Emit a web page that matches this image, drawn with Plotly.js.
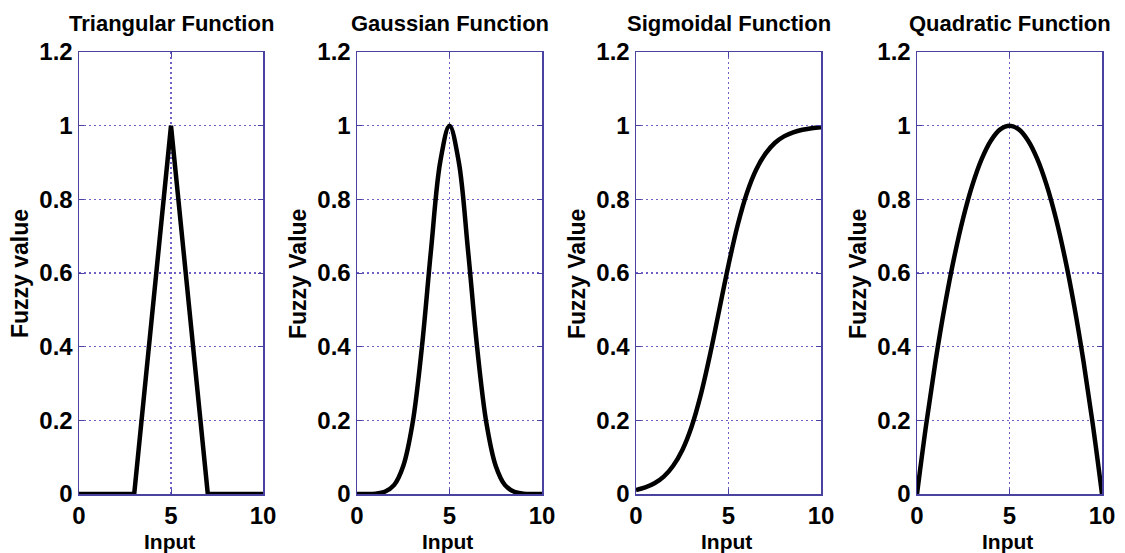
<!DOCTYPE html>
<html>
<head>
<meta charset="utf-8">
<script src="https://cdn.plot.ly/plotly-3.0.1.min.js"></script>
<style>html,body{margin:0;padding:0;background:#fff;}#chart{width:1125px;height:553px;}</style>
</head>
<body>
<div id="chart"></div>
<script>
// ---- data ----
const titles = ["Triangular Function", "Gaussian Function", "Sigmoidal Function", "Quadratic Function"];
const yLabels = ["Fuzzy value", "Fuzzy Value", "Fuzzy Value", "Fuzzy Value"];
const xLabel = "Input";
const xTicks = [0, 5, 10];
const yTicks = [0, 0.2, 0.4, 0.6, 0.8, 1, 1.2];
const yTickText = ["0", "0.2", "0.4", "0.6", "0.8", "1", "1.2"];

const triX = [0, 3, 5, 7, 10];
const triY = [0, 0, 1, 0, 0];

const curveX = [0,0.5,1,1.5,2,2.5,3,3.5,4,4.5,5,5.5,6,6.5,7,7.5,8,8.5,9,9.5,10];
const gaussY = [0,0,0.001,0.006,0.024,0.076,0.191,0.395,0.662,0.902,1,0.902,0.662,0.395,0.191,0.076,0.024,0.006,0.001,0,0];
const sigY   = [0.011,0.018,0.029,0.047,0.076,0.119,0.182,0.269,0.378,0.5,0.622,0.731,0.818,0.881,0.924,0.953,0.971,0.982,0.989,0.993,0.996];
const quadY  = [0,0.19,0.36,0.51,0.64,0.75,0.84,0.91,0.96,0.99,1,0.99,0.96,0.91,0.84,0.75,0.64,0.51,0.36,0.19,0];

// ---- layout geometry ----
const W = 1125, H = 553;
const panels = [[79, 263], [357, 542], [636, 821], [917, 1102]];
const plotTop = 52, plotBottom = 494;
const px = v => v / W;
const py = v => 1 - v / H;

const font = "Liberation Sans, Arial, sans-serif";
const gridColor = "#6e60c4";
const frameColor = "#4a42a0";

const series = [[triX, triY, "linear"], [curveX, gaussY, "spline"], [curveX, sigY, "spline"], [curveX, quadY, "spline"]];

const traces = series.map((s, i) => ({
  x: s[0], y: s[1], type: "scatter", mode: "lines",
  line: {color: "#000", width: 4.5, shape: s[2]},
  xaxis: i === 0 ? "x" : "x" + (i + 1),
  yaxis: i === 0 ? "y" : "y" + (i + 1),
  hoverinfo: "skip", cliponaxis: true
}));

const layout = {
  width: W, height: H,
  margin: {l: 0, r: 0, t: 0, b: 0},
  paper_bgcolor: "#fff", plot_bgcolor: "#fff",
  showlegend: false,
  font: {family: font, color: "#000"},
  annotations: []
};

panels.forEach((p, i) => {
  const xa = i === 0 ? "xaxis" : "xaxis" + (i + 1);
  const ya = i === 0 ? "yaxis" : "yaxis" + (i + 1);
  const yid = i === 0 ? "y" : "y" + (i + 1);
  const xid = i === 0 ? "x" : "x" + (i + 1);
  layout[xa] = {
    domain: [px(p[0]), px(p[1])], anchor: yid, range: [0, 10],
    tickvals: xTicks, ticktext: xTicks.map(String),
    showgrid: true, gridcolor: gridColor, griddash: "2px,3px", gridwidth: 1.5,
    zeroline: false, showline: true, linecolor: frameColor, linewidth: 1.5, mirror: "ticks",
    ticks: "inside", ticklen: 5, tickcolor: frameColor,
    tickfont: {family: font, size: 24, color: "#000", weight: "bold"},
    ticklabelstandoff: 0
  };
  layout[ya] = {
    domain: [py(plotBottom), py(plotTop)], anchor: xid, range: [0, 1.2],
    tickvals: yTicks, ticktext: yTickText,
    showgrid: true, gridcolor: gridColor, griddash: "2px,3px", gridwidth: 1.5,
    zeroline: false, showline: true, linecolor: frameColor, linewidth: 1.5, mirror: "ticks",
    ticks: "inside", ticklen: 5, tickcolor: frameColor,
    tickfont: {family: font, size: 24, color: "#000", weight: "bold"},
    ticklabelstandoff: 0
  };
  const cx = (p[0] + p[1]) / 2;
  layout.annotations.push({
    text: "<b>" + titles[i] + "</b>", xref: "paper", yref: "paper",
    x: px(cx), y: py(24), xanchor: "center", yanchor: "middle", showarrow: false,
    font: {family: font, size: 22, color: "#000"}
  });
  layout.annotations.push({
    text: "<b>" + xLabel + "</b>", xref: "paper", yref: "paper",
    x: px(cx - 2), y: py(541), xanchor: "center", yanchor: "middle", showarrow: false,
    font: {family: font, size: 21, color: "#000"}
  });
  layout.annotations.push({
    text: "<b>" + yLabels[i] + "</b>", xref: "paper", yref: "paper",
    x: px(p[0] - 59), y: py(274), xanchor: "center", yanchor: "middle", showarrow: false,
    textangle: -90,
    font: {family: font, size: 23, color: "#000"}
  });
});

Plotly.newPlot("chart", traces, layout, {displayModeBar: false, staticPlot: true});
</script>
</body>
</html>
